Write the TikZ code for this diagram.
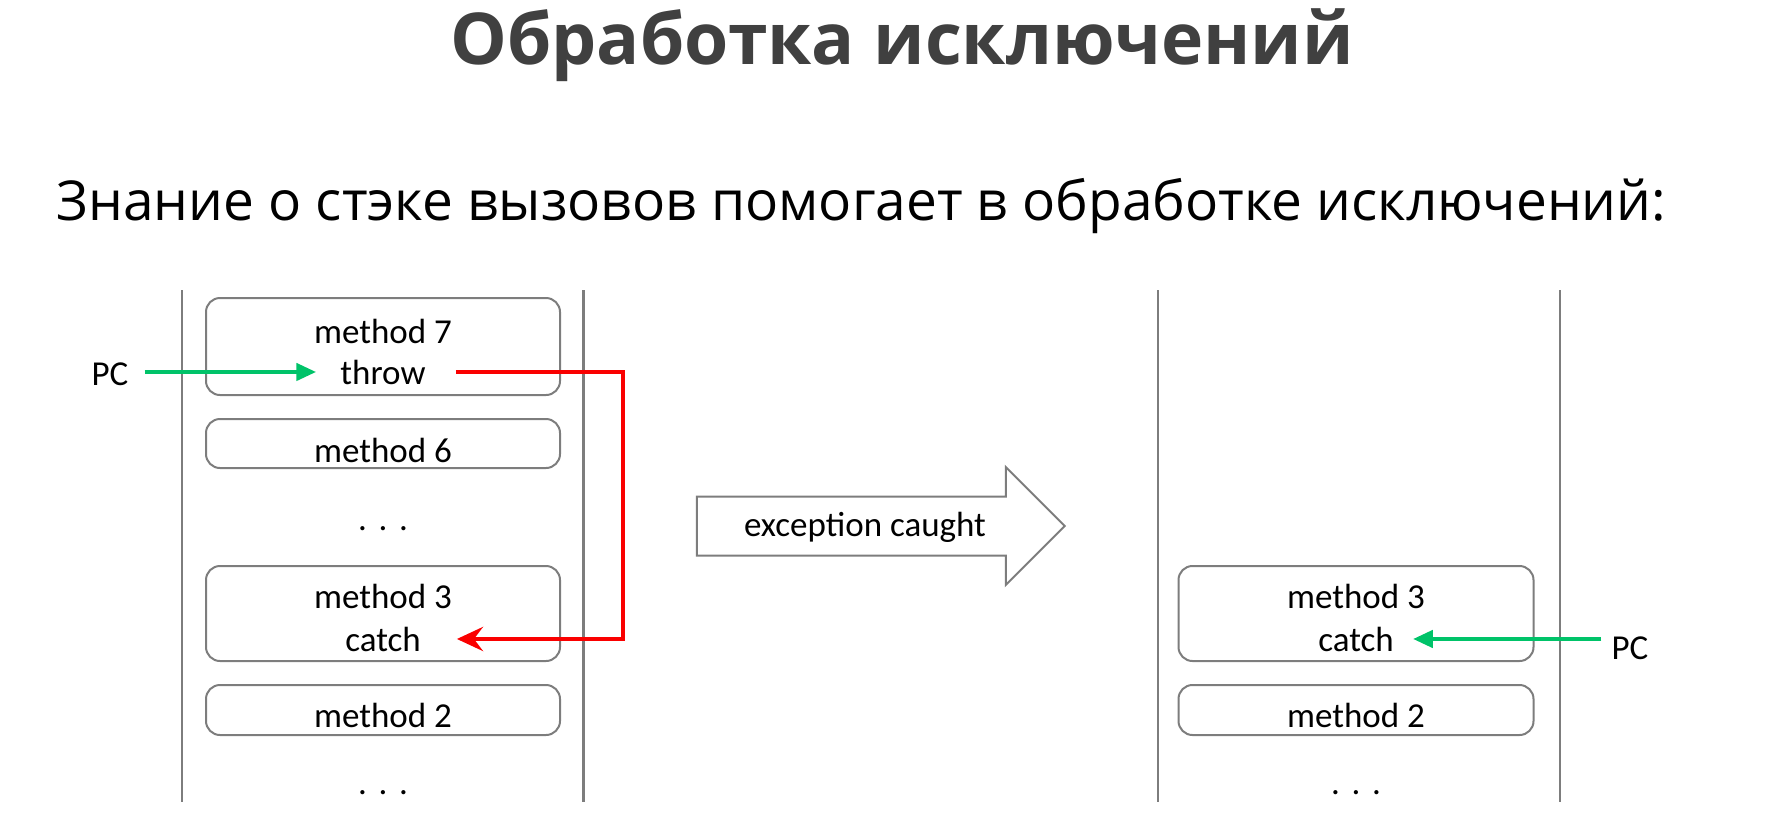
\documentclass[tikz,border=0pt]{standalone}
\usepackage{fontspec}
\setmainfont{Carlito}
\newfontfamily\headfont{Open Sans}
\usetikzlibrary{arrows.meta, positioning, shapes.arrows}
\definecolor{pcgreen}{RGB}{0, 195, 105}
\definecolor{throwred}{RGB}{250, 0, 0}
\definecolor{framegray}{RGB}{125, 125, 125}
\definecolor{titlegray}{RGB}{64, 64, 64}

\tikzset{
  frame/.style={draw=framegray, line width=2pt, rounded corners=14pt},
  callbox/.style={frame, minimum width=354pt},
  calltext/.style={font=\fontsize{35}{40}\selectfont, inner sep=0pt, anchor=base},
  wall/.style={framegray, line width=2pt},
  pcarrow/.style={pcgreen, line width=4.5pt, -{Triangle[length=20pt, width=17pt]}},
  throwarrow/.style={throwred, line width=4.5pt, -{Stealth[length=26pt, width=24pt, inset=9pt]}},
}

\begin{document}
\begin{tikzpicture}[x=1pt, y=-1pt]
  \useasboundingbox (0,0) rectangle (1766,831);

  % Headings
  \node[font=\headfont\bfseries\fontsize{71.5}{80}\selectfont, text=titlegray, anchor=base, inner sep=0pt]
    (title) at (902,64) {Обработка исключений};
  \node[font=\headfont\fontsize{55}{62}\selectfont, anchor=base west, inner sep=0pt]
    (subtitle) at (56,220) {Знание о стэке вызовов помогает в обработке исключений:};

  % Stack before
  \draw[wall] (182,290) -- (182,802);
  \draw[wall, line width=3pt] (583,290) -- (583,802);
  \node[callbox, minimum height=97pt] (m7) at (383,346.5) {};
  \node[callbox, minimum height=49pt] (m6) at (383,443.5) {};
  \node[callbox, minimum height=95pt] (m3) at (383,613.5) {};
  \node[callbox, minimum height=50pt] (m2) at (383,710) {};
  \node[calltext] (m7name) at (383,343) {method 7};
  \node[calltext] (throw) at (383,384) {throw};
  \node[calltext] (m6name) at (383,462) {method 6};
  \node[calltext] (dotsA) at (383,530) {.\,\,.\,\,.};
  \node[calltext] (m3name) at (383,608) {method 3};
  \node[calltext] (catch) at (383,651) {catch};
  \node[calltext] (m2name) at (383,727) {method 2};
  \node[calltext] (dotsB) at (383,794) {.\,\,.\,\,.};
  \node[calltext, anchor=center] (pcA) at (110,374) {PC};

  % Unwinding
  \coordinate (redturn) at (623,500);
  \draw[pcarrow, shorten >=24pt] (pcA.east |- throw.west) ++(16,0) -- (throw.west);
  \draw[throwarrow, line join=miter] ([xshift=30pt]throw.east) -| (redturn) |- ([xshift=36pt]catch.east);

  % Transition
  \node[single arrow, draw=framegray, line width=2pt, minimum height=368pt,
    inner xsep=0pt, inner ysep=28.5pt, single arrow head extend=29.5pt] (caught) at (866,526) {};
  \node[calltext, anchor=center] (caughttext) at (865,527) {exception caught};

  % Stack after
  \draw[wall] (1158,290) -- (1158,802);
  \draw[wall] (1560,290) -- (1560,802);
  \node[callbox, minimum width=355pt, minimum height=95pt] (r3) at (1356,613.5) {};
  \node[callbox, minimum width=355pt, minimum height=50pt] (r2) at (1356,710) {};
  \node[calltext] (r3name) at (1356,608) {method 3};
  \node[calltext] (rcatch) at (1356,651) {catch};
  \node[calltext] (r2name) at (1356,727) {method 2};
  \node[calltext] (dotsC) at (1356,794) {.\,\,.\,\,.};
  \node[calltext, anchor=center] (pcB) at (1630,648) {PC};
  \draw[pcarrow, shorten >=19pt] (pcB.west |- rcatch.east) ++(-10,0) -- (rcatch.east);
\end{tikzpicture}
\end{document}
